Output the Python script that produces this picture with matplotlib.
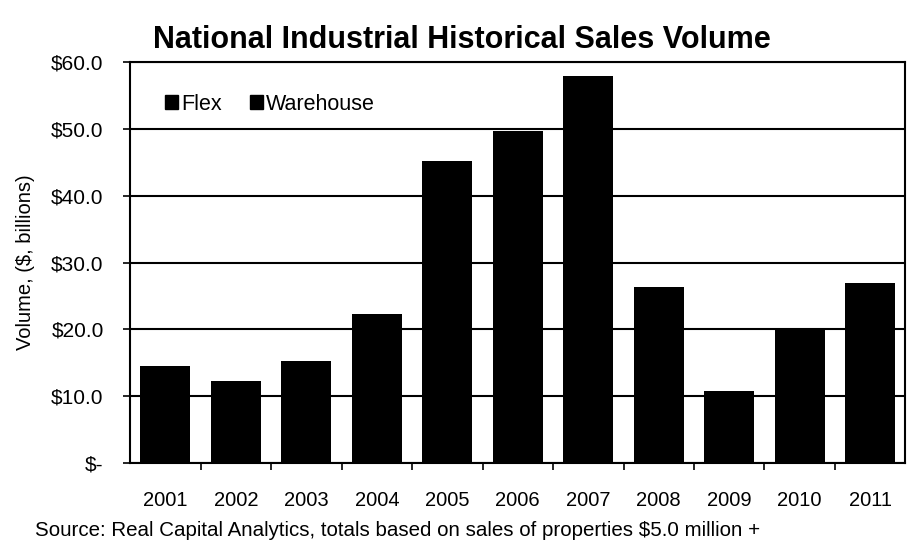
import matplotlib.pyplot as plt
import matplotlib.patches as mpatches

# Data
years = ["2001", "2002", "2003", "2004", "2005", "2006",
         "2007", "2008", "2009", "2010", "2011"]
volume = [14.5, 12.2, 15.3, 22.3, 45.2, 49.7, 57.9, 26.3, 10.7, 20.1, 27.0]
series_names = ["Flex", "Warehouse"]
y_ticks = [0, 10, 20, 30, 40, 50, 60]
y_tick_labels = ["$-", "$10.0", "$20.0", "$30.0", "$40.0", "$50.0", "$60.0"]

plt.rcParams['font.family'] = ['Liberation Sans', 'DejaVu Sans']

fig = plt.figure(figsize=(9.1, 5.55), dpi=100)
ax = fig.add_axes([0.143, 0.166, 0.852, 0.722])

x = range(len(years))
ax.bar(x, volume, width=0.71, color="black", zorder=3)

# horizontal gridlines
ax.set_yticks(y_ticks)
ax.set_yticklabels(y_tick_labels, fontsize=15)
ax.yaxis.grid(True, color="black", linewidth=1.5, zorder=1)
ax.set_ylim(0, 60)
ax.set_xlim(-0.5, len(years) - 0.5)

# x ticks sit between categories, labels centred under bars
ax.set_xticks([i + 0.5 for i in range(len(years) - 1)])
ax.set_xticklabels([])
ax.set_xticks(list(x), minor=True)
ax.set_xticklabels(years, minor=True, fontsize=14.5)
ax.tick_params(axis="x", which="minor", length=0, pad=20)
ax.tick_params(axis="x", which="major", length=5, width=1.2, direction="out")
ax.tick_params(axis="y", length=5, width=1.2, direction="out", pad=14)

for s in ax.spines.values():
    s.set_linewidth(1.5)
    s.set_color("black")

ax.set_ylabel("Volume, ($, billions)", fontsize=14.5, labelpad=12)

# legend (both series appear as black squares)
handles = [mpatches.Patch(color="black") for _ in series_names]
ax.legend(handles, series_names, loc="upper left", ncol=2, frameon=False,
          fontsize=15.5, handlelength=0.6, handleheight=0.6,
          handletextpad=0.15, columnspacing=1.3,
          bbox_to_anchor=(0.02, 0.97))

fig.text(0.508, 0.928, "National Industrial Historical Sales Volume",
         ha="center", va="center", fontsize=22, fontweight="bold")
fig.text(0.038, 0.045, "Source: Real Capital Analytics, totals based on sales of properties $5.0 million +",
         ha="left", va="center", fontsize=14.8)

fig.savefig("out.png", dpi=100)
